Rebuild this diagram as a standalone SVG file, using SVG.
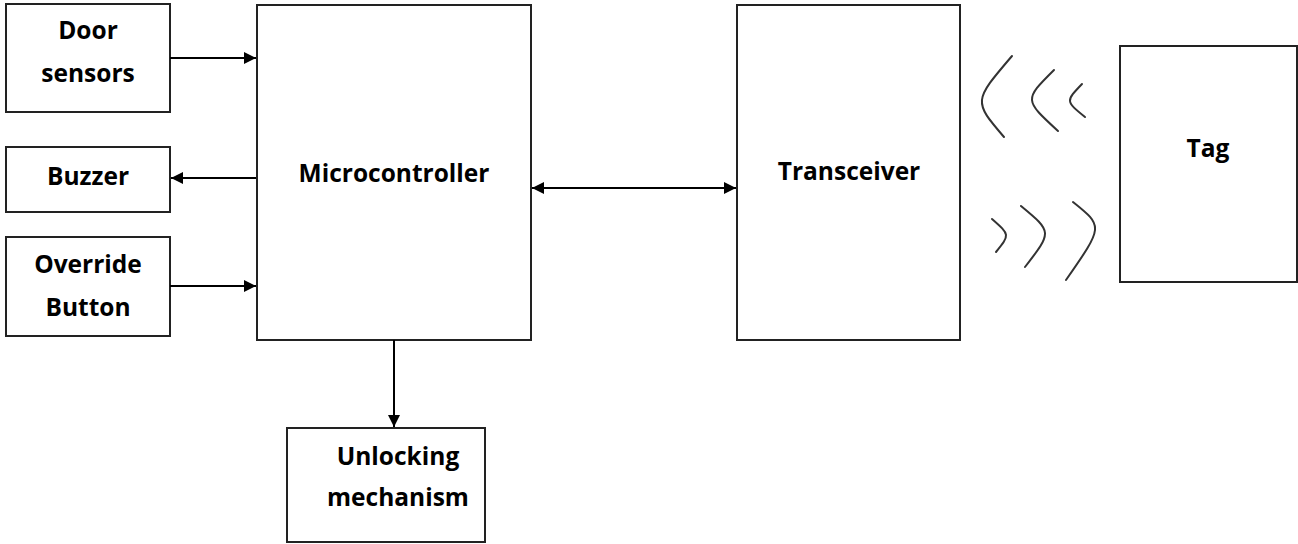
<svg xmlns="http://www.w3.org/2000/svg" width="1298" height="544" viewBox="0 0 1298 544">
  <defs>
    <marker id="arrow" viewBox="0 0 10 10" refX="10" refY="5" markerWidth="13" markerHeight="12" markerUnits="userSpaceOnUse" orient="auto-start-reverse">
      <path d="M0,0 L10,5 L0,10 z" fill="#000"/>
    </marker>
    <style>
      .box { fill: #fff; stroke: #222; stroke-width: 2; }
      .lbl { font-family: "Open Sans", "Liberation Sans", sans-serif; font-weight: bold; font-size: 24.5px; fill: #000; text-anchor: middle; }
      .link { stroke: #000; stroke-width: 2; fill: none; }
      .wave { stroke: #333; stroke-width: 2; fill: none; stroke-linecap: round; stroke-linejoin: round; }
    </style>
  </defs>
  <rect width="1298" height="544" fill="#fff"/>

  <g id="door-sensors">
    <rect class="box" x="6" y="4" width="164" height="108"/>
    <text class="lbl" x="88" y="39">Door</text>
    <text class="lbl" x="88" y="82">sensors</text>
  </g>
  <g id="buzzer">
    <rect class="box" x="6" y="147" width="164" height="65"/>
    <text class="lbl" x="88" y="185">Buzzer</text>
  </g>
  <g id="override-button">
    <rect class="box" x="6" y="237" width="164" height="99"/>
    <text class="lbl" x="88" y="273">Override</text>
    <text class="lbl" x="88" y="316">Button</text>
  </g>
  <g id="microcontroller">
    <rect class="box" x="257" y="5" width="274" height="335"/>
    <text class="lbl" x="394" y="182">Microcontroller</text>
  </g>
  <g id="unlocking-mechanism">
    <rect class="box" x="287" y="428" width="198" height="114"/>
    <text class="lbl" x="398" y="465">Unlocking</text>
    <text class="lbl" x="398" y="506">mechanism</text>
  </g>
  <g id="transceiver">
    <rect class="box" x="737" y="5" width="223" height="335"/>
    <text class="lbl" x="849" y="180">Transceiver</text>
  </g>
  <g id="tag">
    <rect class="box" x="1120" y="46" width="177" height="236"/>
    <text class="lbl" x="1208" y="157">Tag</text>
  </g>

  <g id="connectors">
    <line class="link" x1="170" y1="58" x2="256" y2="58" marker-end="url(#arrow)"/>
    <line class="link" x1="256" y1="178" x2="171" y2="178" marker-end="url(#arrow)"/>
    <line class="link" x1="170" y1="286" x2="256" y2="286" stroke="#555" marker-end="url(#arrow)"/>
    <line class="link" x1="394" y1="340" x2="394" y2="427" marker-end="url(#arrow)"/>
    <line class="link" x1="532" y1="188" x2="736" y2="188" marker-start="url(#arrow)" marker-end="url(#arrow)"/>
  </g>

  <g id="radio-waves">
    <!-- incoming waves, opening towards the tag -->
    <path class="wave" d="M1012,56 C973.3,101.2 973.3,101.2 1004,137"/>
    <path class="wave" d="M1054,70 C1024,99.8 1024,99.8 1058,131"/>
    <path class="wave" d="M1082,84 C1065.5,101.2 1065.5,101.2 1085,117"/>
    <!-- outgoing waves, opening towards the transceiver -->
    <path class="wave" d="M992,219 C1010,234.8 1010,234.8 996,252"/>
    <path class="wave" d="M1021,206 C1052.3,231.8 1052.3,231.8 1025,267"/>
    <path class="wave" d="M1073,202 C1103.5,226.3 1103.5,226.3 1066,280"/>
  </g>
</svg>
